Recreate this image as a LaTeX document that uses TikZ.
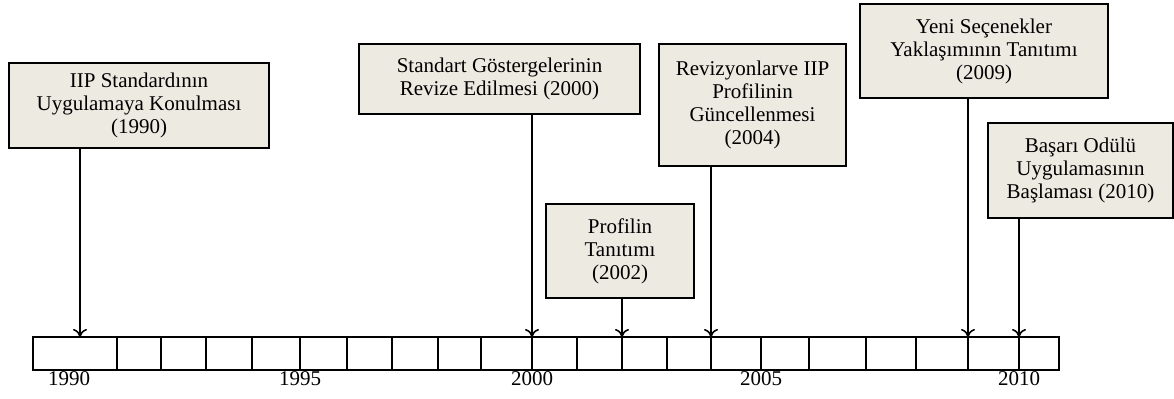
\documentclass[tikz,border=0pt]{standalone}
\usepackage{fontspec}
\setmainfont{Liberation Serif}
\usetikzlibrary{arrows.meta}
\definecolor{boxfill}{RGB}{236,234,225}

\begin{document}
\begin{tikzpicture}[x=0.5pt, y=-0.5pt,
    evbox/.style={draw, line width=1pt, fill=boxfill, align=center, anchor=north west,
        inner sep=0pt, font=\fontsize{10.5pt}{11.5pt}\selectfont},
    yearlbl/.style={anchor=north, inner sep=0.5pt, font=\fontsize{10.5pt}{11.5pt}\selectfont},
    evarrow/.style={-{To[length=4pt, width=7pt]}, line width=0.8pt}]
    \useasboundingbox (0,0) rectangle (1174,399);

    % Timeline
    \draw[line width=0.95pt] (33,337) rectangle (1059,370);
    \foreach \x in {117,161,206,252,300,347,392,438,481,532,577,622,667,711,761,809,866,916,968,1019}
        \draw[line width=0.95pt] (\x,337) -- (\x,370);

    \node[yearlbl] (l1990) at (69,370) {1990};
    \node[yearlbl] (l1995) at (300,370) {1995};
    \node[yearlbl] (l2000) at (532,370) {2000};
    \node[yearlbl] (l2005) at (761,370) {2005};
    \node[yearlbl] (l2010) at (1019,370) {2010};

    \coordinate (t1990) at (80,337);
    \coordinate (t2000) at (532,337);
    \coordinate (t2002) at (622,337);
    \coordinate (t2004) at (711,337);
    \coordinate (t2009) at (968,337);
    \coordinate (t2010) at (1019,337);

    % Events
    \node[evbox, minimum width=130pt, minimum height=42.5pt] (b1990) at (8,62)
        {IIP Standardının\\Uygulamaya Konulması\\(1990)};
    \node[evbox, minimum width=140.5pt, minimum height=35pt] (b2000) at (358,43)
        {Standart Göstergelerinin\\Revize Edilmesi (2000)};
    \node[evbox, minimum width=74pt, minimum height=47pt] (b2002) at (545,203)
        {Profilin\\Tanıtımı\\(2002)};
    \node[evbox, minimum width=93.5pt, minimum height=61pt] (b2004) at (658,43)
        {Revizyonlarve IIP\\Profilinin\\Güncellenmesi\\(2004)};
    \node[evbox, minimum width=124pt, minimum height=47pt] (b2009) at (859,3)
        {Yeni Seçenekler\\Yaklaşımının Tanıtımı\\(2009)};
    \node[evbox, minimum width=92.5pt, minimum height=47.5pt] (b2010) at (987,122)
        {Başarı Odülü\\Uygulamasının\\Başlaması (2010)};

    % Arrows
    \draw[evarrow] (b1990.south -| t1990) -- (t1990);
    \draw[evarrow] (b2000.south -| t2000) -- (t2000);
    \draw[evarrow] (b2002.south -| t2002) -- (t2002);
    \draw[evarrow] (b2004.south -| t2004) -- (t2004);
    \draw[evarrow] (b2009.south -| t2009) -- (t2009);
    \draw[evarrow] (b2010.south -| t2010) -- (t2010);
\end{tikzpicture}
\end{document}
